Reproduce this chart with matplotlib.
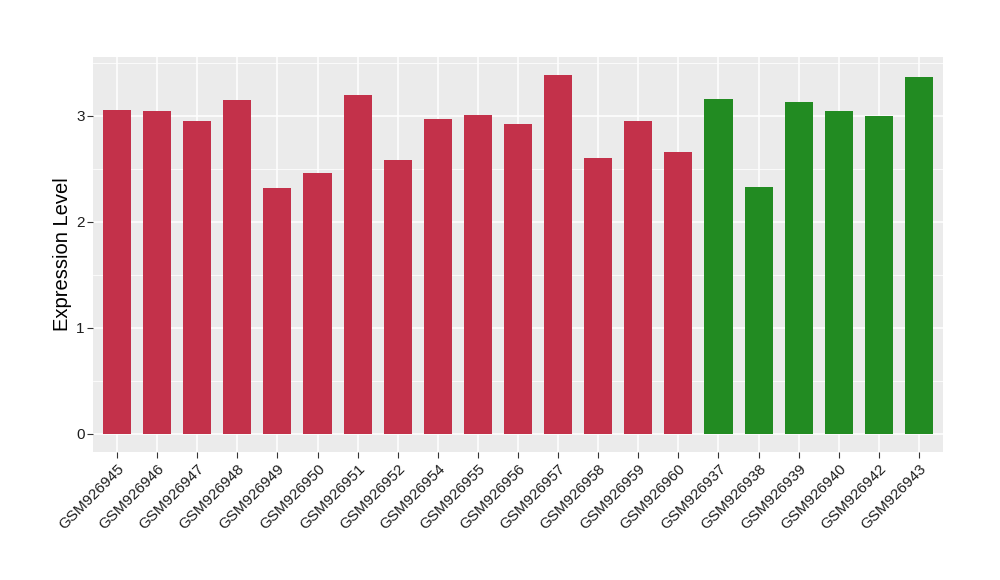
import matplotlib
matplotlib.use("Agg")
import matplotlib.pyplot as plt
import numpy as np

samples = ["GSM926945", "GSM926946", "GSM926947", "GSM926948", "GSM926949",
           "GSM926950", "GSM926951", "GSM926952", "GSM926954", "GSM926955",
           "GSM926956", "GSM926957", "GSM926958", "GSM926959", "GSM926960",
           "GSM926937", "GSM926938", "GSM926939", "GSM926940", "GSM926942",
           "GSM926943"]
values = [3.057, 3.047, 2.953, 3.15, 2.32, 2.46, 3.20, 2.585, 2.97, 3.01,
          2.925, 3.387, 2.60, 2.953, 2.66, 3.16, 2.33, 3.13, 3.047, 3.00, 3.37]
groups = ["A"] * 15 + ["B"] * 6
group_colors = {"A": "#C3314A", "B": "#228B22"}
yticks = [0, 1, 2, 3]

plt.rcParams['font.family'] = ['Liberation Sans', 'DejaVu Sans']

fig = plt.figure(figsize=(10, 5.8), dpi=100)
ax = fig.add_axes([0.093, 0.2212, 0.85, 0.6805])
ax.set_facecolor("#EBEBEB")

x = np.arange(1, len(samples) + 1)
colors = [group_colors[g] for g in groups]
ax.bar(x, values, width=0.7, color=colors, zorder=3)

ymax = max(values)
ax.set_xlim(0.4, len(samples) + 0.6)
ax.set_ylim(-0.05 * ymax, ymax * 1.05)

ax.set_yticks(yticks)
ax.set_yticks([0.5, 1.5, 2.5, 3.5], minor=True)
ax.set_xticks(x)
ax.set_xticklabels(samples, rotation=45, ha="right", rotation_mode="anchor")

ax.grid(which="major", color="white", linewidth=1.1, zorder=0)
ax.grid(which="minor", axis="y", color="white", linewidth=0.55, zorder=0)
ax.set_axisbelow(True)

for s in ax.spines.values():
    s.set_visible(False)

ax.tick_params(axis="both", which="major", length=4, width=0.8, color="#333333",
               labelcolor="#1E1E1E", labelsize=11, pad=2)
ax.tick_params(axis="y", which="minor", length=0)
ax.tick_params(axis="x", pad=3)

ax.set_ylabel("Expression Level", fontsize=14.5, color="black", labelpad=3)

fig.savefig("out.png", dpi=100)
